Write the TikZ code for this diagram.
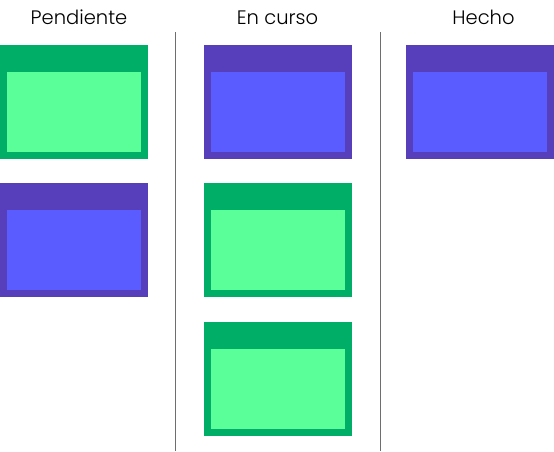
\documentclass[tikz,border=0pt]{standalone}
\usepackage{fontspec}
\setmainfont{Poppins Light}
\definecolor{greendark}{RGB}{0,174,104}
\definecolor{greenlight}{RGB}{90,255,154}
\definecolor{bluedark}{RGB}{87,62,186}
\definecolor{bluelight}{RGB}{90,92,255}
\definecolor{sepgray}{RGB}{110,110,110}
% card: top left corner (x,y), frame colour, body colour
\newcommand\kcard[4]{%
\fill[#3] (#1,#2) rectangle ++(148,114);
\fill[#4] ($(#1,#2)+(7,27)$) rectangle ++(134,80);
}
\usetikzlibrary{calc}
\begin{document}
\begin{tikzpicture}[x=1pt,y=-1pt,
  coltitle/.style={anchor=base,inner sep=0pt,font=\fontsize{19.5}{22}\selectfont},
  sep/.style={sepgray,line width=1pt}]
\useasboundingbox (0,0) rectangle (554,451);
\node[coltitle] (pend) at (79,24.5) {Pendiente};
\node[coltitle] (curso) at (277.5,24.5) {En curso};
\node[coltitle] (hecho) at (483.5,24.5) {Hecho};
\draw[sep] (175.7,32) -- (175.7,451);
\draw[sep] (380.3,32) -- (380.3,451);
% Pendiente
\kcard{0}{45}{greendark}{greenlight}
\kcard{0}{183.3}{bluedark}{bluelight}
% En curso
\kcard{204.3}{45}{bluedark}{bluelight}
\kcard{204.3}{183.3}{greendark}{greenlight}
\kcard{204.3}{322}{greendark}{greenlight}
% Hecho
\kcard{405.7}{45}{bluedark}{bluelight}
\end{tikzpicture}
\end{document}
